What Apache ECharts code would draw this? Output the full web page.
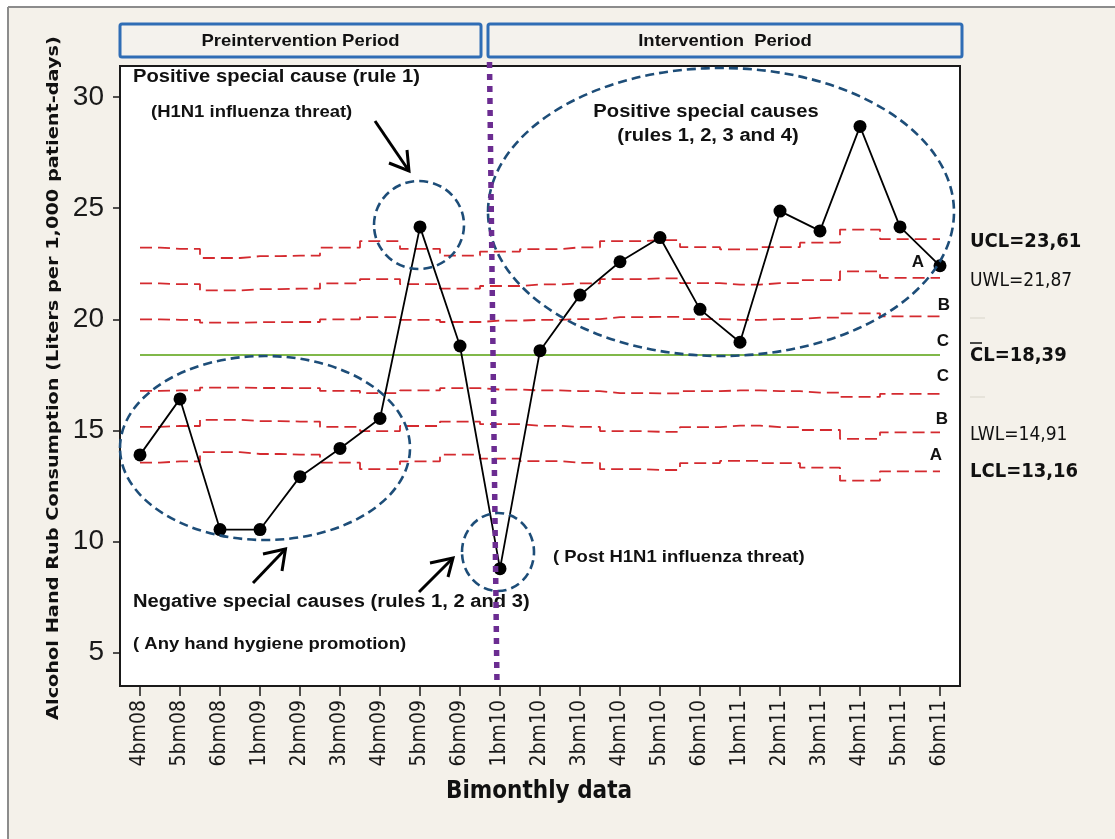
<!DOCTYPE html>
<html lang="en">
<head>
  <meta charset="UTF-8">
  <title>Alcohol hand rub consumption - control chart</title>
  <style>html, body { margin: 0; padding: 0; background: #fff; }</style>
</head>
<body>
  <div id="main" style="width: 1115px;height: 839px;"></div>
<script src="https://cdn.jsdelivr.net/npm/echarts@6/dist/echarts.min.js"></script>
<script>
  // bimonthly periods
  var categories = ['4bm08', '5bm08', '6bm08', '1bm09', '2bm09', '3bm09', '4bm09', '5bm09', '6bm09',
    '1bm10', '2bm10', '3bm10', '4bm10', '5bm10', '6bm10', '1bm11', '2bm11', '3bm11', '4bm11', '5bm11', '6bm11'];
  // liters per 1,000 patient-days
  var consumption = [13.90, 16.42, 10.54, 10.54, 12.92, 14.19, 15.54, 24.16, 18.80,
    8.78, 18.59, 21.09, 22.59, 23.68, 20.45, 18.97, 24.87, 23.98, 28.68, 24.16, 22.41];
  var CL = 18.39;
  // limits per point (u-chart, they move with patient-days)
  var ucl = [23.23, 23.17, 22.76, 22.84, 22.87, 23.23, 23.52, 23.17, 22.87, 23.05, 23.16,
    23.24, 23.52, 23.56, 23.25, 23.15, 23.25, 23.45, 24.04, 23.61, 23.61];
  var uwl = [21.62, 21.58, 21.30, 21.36, 21.38, 21.62, 21.81, 21.58, 21.38, 21.50, 21.57,
    21.62, 21.81, 21.84, 21.63, 21.56, 21.63, 21.76, 22.16, 21.87, 21.87];
  var upper1s = [20.00, 19.98, 19.85, 19.87, 19.88, 20.00, 20.10, 19.98, 19.88, 19.94, 19.98,
    20.01, 20.10, 20.11, 20.01, 19.98, 20.01, 20.08, 20.27, 20.13, 20.13];
  var lower1s = [16.78, 16.80, 16.93, 16.91, 16.90, 16.78, 16.68, 16.80, 16.90, 16.84, 16.80,
    16.77, 16.68, 16.67, 16.77, 16.80, 16.77, 16.70, 16.51, 16.65, 16.65];
  var lwl = [15.16, 15.20, 15.48, 15.42, 15.40, 15.16, 14.97, 15.20, 15.40, 15.28, 15.21,
    15.16, 14.97, 14.94, 15.15, 15.22, 15.15, 15.02, 14.62, 14.91, 14.91];
  var lcl = [13.55, 13.61, 14.02, 13.94, 13.91, 13.55, 13.26, 13.61, 13.91, 13.73, 13.62,
    13.54, 13.26, 13.22, 13.53, 13.63, 13.53, 13.33, 12.74, 13.16, 13.16];
  var yTicks = [5, 10, 15, 20, 25, 30];

  var ARIAL = "'Liberation Sans', Arial, sans-serif";
  var DEJA = "'DejaVu Sans', sans-serif";
  var COND = "'DejaVu Sans Condensed', 'DejaVu Sans', sans-serif";

  var chartDom = document.getElementById('main');
  var myChart = echarts.init(chartDom);
  var option;

  function limitSeries(name, data) {
    return {
      name: name,
      type: 'line',
      step: 'middle',
      data: data,
      symbol: 'none',
      silent: true,
      z: 2,
      lineStyle: { color: '#d42a2f', width: 1.8, type: [12, 6] }
    };
  }

  function txt(x, y, s, font, align, sx) {
    return {
      type: 'text', x: x, y: y, z: 100, scaleX: sx || 1,
      style: { text: s, font: font, fill: '#111', align: align || 'left', textAlign: align || 'left',
        verticalAlign: 'middle', textVerticalAlign: 'middle' }
    };
  }
  function ell(cx, cy, rx, ry) {
    return {
      type: 'ellipse', z: 100, shape: { cx: cx, cy: cy, rx: rx, ry: ry },
      style: { fill: null, stroke: '#1d4d78', lineWidth: 2.6, lineDash: [9, 5] }
    };
  }
  function arrow(p0, tip, w1, w2) {
    return [
      { type: 'line', z: 100, shape: { x1: p0[0], y1: p0[1], x2: tip[0], y2: tip[1] },
        style: { stroke: '#000', lineWidth: 3 } },
      { type: 'polyline', z: 100, shape: { points: [w1, tip, w2] },
        style: { stroke: '#000', lineWidth: 3, fill: null } }
    ];
  }

  var big = 'bold 18px ' + ARIAL;
  var small = 'bold 16.5px ' + ARIAL;
  var letter = 'bold 17px ' + ARIAL;

  var graphics = [
    // outer frame of the figure
    { type: 'rect', shape: { x: 0, y: 0, width: 1115, height: 7 }, style: { fill: '#fff' } },
    { type: 'rect', shape: { x: 0, y: 0, width: 8, height: 839 }, style: { fill: '#fff' } },
    { type: 'line', shape: { x1: 8, y1: 7, x2: 1115, y2: 7 }, style: { stroke: '#8c8c8c', lineWidth: 2 } },
    { type: 'line', shape: { x1: 8, y1: 7, x2: 8, y2: 839 }, style: { stroke: '#8c8c8c', lineWidth: 2 } },
    // period headers
    { type: 'rect', shape: { x: 120, y: 24, width: 361, height: 33, r: 2 },
      style: { fill: '#f4f2ed', stroke: '#2f6db5', lineWidth: 3 } },
    { type: 'rect', shape: { x: 488, y: 24, width: 474, height: 33, r: 2 },
      style: { fill: '#f4f2ed', stroke: '#2f6db5', lineWidth: 3 } },
    txt(300.5, 41, 'Preintervention Period', 'bold 16.5px ' + ARIAL, 'center', 1.12),
    txt(725, 41, 'Intervention  Period', 'bold 16.5px ' + ARIAL, 'center', 1.12),
    // start of the intervention
    { type: 'line', z: 101, shape: { x1: 489.5, y1: 62, x2: 497, y2: 686 },
      style: { stroke: '#6b2c91', lineWidth: 5.5, lineDash: [6, 6] } },
    // special-cause circles
    ell(265, 448, 145, 92),
    ell(419, 225, 45, 44),
    ell(721, 212, 233, 144),
    ell(498, 552, 36, 39),
    // annotations
    txt(133, 77, 'Positive special cause (rule 1)', big, 'left', 1.12),
    txt(151, 112, '(H1N1 influenza threat)', small, 'left', 1.12),
    txt(706, 112, 'Positive special causes', big, 'center', 1.12),
    txt(708, 136, '(rules 1, 2, 3 and 4)', big, 'center', 1.12),
    txt(133, 602, 'Negative special causes (rules 1, 2 and 3)', big, 'left', 1.12),
    txt(133, 644, '( Any hand hygiene promotion)', small, 'left', 1.12),
    txt(553, 557, '( Post H1N1 influenza threat)', small, 'left', 1.12),
    // zone letters
    txt(918, 262, 'A', letter, 'center'),
    txt(944, 305, 'B', letter, 'center'),
    txt(943, 341, 'C', letter, 'center'),
    txt(943, 376, 'C', letter, 'center'),
    txt(942, 419, 'B', letter, 'center'),
    txt(936, 455, 'A', letter, 'center'),
    // limit labels
    txt(970, 242, 'UCL=23,61', 'bold 20px ' + COND),
    txt(970, 281, 'UWL=21,87', '19px ' + COND),
    { type: 'line', shape: { x1: 970, y1: 318, x2: 985, y2: 318 }, style: { stroke: '#e2ded4', lineWidth: 1.5 } },
    { type: 'line', shape: { x1: 970, y1: 343, x2: 982, y2: 343 }, style: { stroke: '#111', lineWidth: 1.5 } },
    txt(970, 356, 'CL=18,39', 'bold 20px ' + COND),
    { type: 'line', shape: { x1: 970, y1: 397, x2: 985, y2: 397 }, style: { stroke: '#e2ded4', lineWidth: 1.5 } },
    txt(970, 435, 'LWL=14,91', '19px ' + COND),
    txt(970, 472, 'LCL=13,16', 'bold 20px ' + COND),
    // axis titles
    { type: 'text', x: 54, y: 378, rotation: Math.PI / 2, scaleX: 1.17,
      style: { text: 'Alcohol Hand Rub Consumption (Liters per 1,000 patient-days)', font: 'bold 16.5px ' + DEJA,
        fill: '#111', align: 'center', textAlign: 'center', verticalAlign: 'middle', textVerticalAlign: 'middle' } },
    txt(539, 792, 'Bimonthly data', 'bold 24px ' + COND, 'center')
  ];
  graphics = graphics.concat(
    arrow([375, 121], [409, 171], [389, 163], [407, 150]),
    arrow([253, 583], [285.5, 549], [263, 554], [282, 571]),
    arrow([419, 592], [453, 558], [430, 563], [448, 577])
  );

  option = {
    animation: false,
    backgroundColor: '#f4f1ea',
    grid: {
      left: 120, top: 66, width: 840, height: 620,
      show: true, backgroundColor: '#fff', borderColor: '#1a1a1a', borderWidth: 2,
      containLabel: false, outerBoundsMode: 'none'
    },
    xAxis: {
      type: 'category',
      data: categories,
      boundaryGap: true,
      axisLine: { show: false },
      axisTick: { show: true, alignWithLabel: true, length: 10, lineStyle: { color: '#1a1a1a', width: 1.5 } },
      axisLabel: { interval: 0, rotate: 90, margin: 14, fontSize: 21, fontFamily: COND, color: '#1a1a1a' },
      splitLine: { show: false }
    },
    yAxis: {
      type: 'value',
      min: 3.5,
      max: 31.4,
      axisLine: { show: false },
      axisTick: { show: true, length: 7, customValues: yTicks, lineStyle: { color: '#1a1a1a', width: 1.5 } },
      axisLabel: { margin: 16, fontSize: 28, fontFamily: ARIAL, color: '#1a1a1a', customValues: yTicks },
      splitLine: { show: false }
    },
    series: [
      limitSeries('UCL', ucl),
      limitSeries('UWL', uwl),
      limitSeries('+1 sigma', upper1s),
      limitSeries('-1 sigma', lower1s),
      limitSeries('LWL', lwl),
      limitSeries('LCL', lcl),
      {
        name: 'Consumption',
        type: 'line',
        data: consumption,
        z: 5,
        symbol: 'circle',
        symbolSize: 13,
        itemStyle: { color: '#000' },
        lineStyle: { color: '#000', width: 1.8 },
        markLine: {
          silent: true,
          symbol: ['none', 'none'],
          label: { show: false },
          lineStyle: { color: '#80b84a', type: 'solid', width: 2 },
          data: [[{ coord: [0, CL] }, { coord: [categories.length - 1, CL] }]]
        }
      }
    ],
    graphic: graphics
  };

  option && myChart.setOption(option);
</script>
</body>
</html>
